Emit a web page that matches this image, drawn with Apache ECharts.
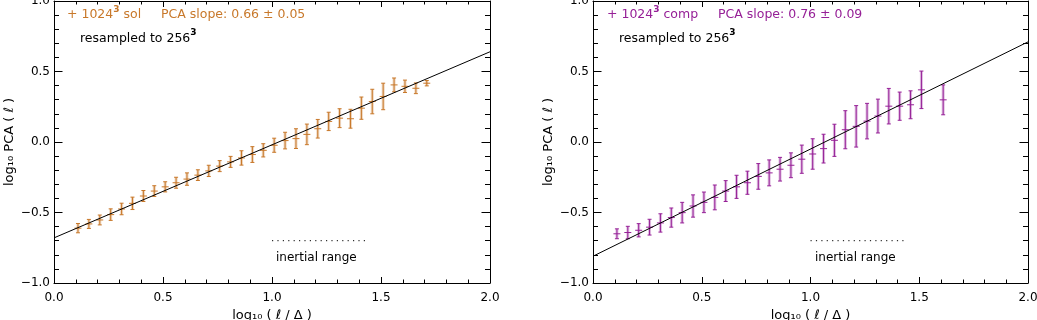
<!DOCTYPE html>
<html>
<head>
    <meta charset="utf-8" />
    <script src="https://cdn.jsdelivr.net/npm/echarts@6/dist/echarts.min.js"></script>
    <style>
        html, body { margin: 0; padding: 0; background: #fff; }
    </style>
</head>
<body>
    <div id="main" style="width:1037px;height:320px;"></div>
    <script>
        // log10(l/Delta) positions
        var xLeft = [0.11, 0.16, 0.21, 0.26, 0.31, 0.36, 0.41, 0.46, 0.51, 0.56, 0.61, 0.66, 0.71, 0.76, 0.81, 0.86,
            0.91, 0.96, 1.01, 1.06, 1.11, 1.16, 1.21, 1.26, 1.31, 1.36, 1.41, 1.46, 1.51, 1.56, 1.61, 1.66, 1.71];
        var yLeft = [-0.611, -0.581, -0.553, -0.515, -0.475, -0.435, -0.383, -0.348, -0.318, -0.289, -0.263, -0.235,
            -0.205, -0.171, -0.141, -0.113, -0.089, -0.059, -0.023, 0.010, 0.024, 0.054, 0.094, 0.146, 0.169, 0.165,
            0.240, 0.287, 0.323, 0.405, 0.395, 0.381, 0.417];
        var errLeft = [0.033, 0.032, 0.035, 0.041, 0.041, 0.044, 0.039, 0.038, 0.036, 0.039, 0.044, 0.038, 0.040,
            0.039, 0.039, 0.051, 0.056, 0.047, 0.050, 0.059, 0.070, 0.073, 0.066, 0.065, 0.067, 0.067, 0.079, 0.087,
            0.094, 0.049, 0.044, 0.038, 0.019];

        var xRight = [0.11, 0.16, 0.21, 0.26, 0.31, 0.36, 0.41, 0.46, 0.51, 0.56, 0.61, 0.66, 0.71, 0.76, 0.81, 0.86,
            0.91, 0.96, 1.01, 1.06, 1.11, 1.16, 1.21, 1.26, 1.31, 1.36, 1.41, 1.46, 1.51, 1.61];
        var yRight = [-0.651, -0.642, -0.626, -0.604, -0.574, -0.536, -0.501, -0.454, -0.428, -0.393, -0.348, -0.318,
            -0.289, -0.244, -0.219, -0.193, -0.165, -0.122, -0.085, -0.047, 0.012, 0.087, 0.111, 0.148, 0.184, 0.254,
            0.254, 0.264, 0.370, 0.299];
        var errRight = [0.035, 0.044, 0.047, 0.056, 0.065, 0.068, 0.073, 0.079, 0.073, 0.088, 0.074, 0.082, 0.082,
            0.091, 0.092, 0.084, 0.088, 0.100, 0.108, 0.102, 0.114, 0.135, 0.147, 0.126, 0.120, 0.126, 0.100, 0.099,
            0.133, 0.106];

        // PCA fits (end points) and inertial range marker
        var fitLeft = [[0, -0.68], [2, 0.64]];
        var fitRight = [[0, -0.81], [2, 0.71]];
        var inertial = [[1.0, -0.70], [1.44, -0.70]];

        var orange = '#c8782a';
        var purple = '#962097';
        var font = '"DejaVu Sans", sans-serif';

        var myChart = echarts.init(document.getElementById('main'));

        function tickFmt(v) {
            return v.toFixed(1).replace('-', '\u2212');
        }

        function errItem(color) {
            return function (params, api) {
                var x = api.value(0), y = api.value(1), e = api.value(2);
                var c = api.coord([x, y]);
                var lo = api.coord([x, y - e]);
                var hi = api.coord([x, y + e]);
                var halo = { stroke: color, lineWidth: 3, opacity: 0.3 };
                var st = { stroke: color, lineWidth: 1 };
                return {
                    type: 'group',
                    children: [
                        { type: 'line', shape: { x1: c[0], y1: lo[1], x2: c[0], y2: hi[1] }, style: halo },
                        { type: 'line', shape: { x1: c[0], y1: lo[1], x2: c[0], y2: hi[1] }, style: st },
                        { type: 'line', shape: { x1: c[0] - 2, y1: lo[1], x2: c[0] + 2, y2: lo[1] }, style: st },
                        { type: 'line', shape: { x1: c[0] - 2, y1: hi[1], x2: c[0] + 2, y2: hi[1] }, style: st },
                        { type: 'line', shape: { x1: c[0] - 3.5, y1: c[1], x2: c[0] + 3.5, y2: c[1] }, style: st }
                    ]
                };
            };
        }

        function xAxes(g) {
            return [
                {
                    gridIndex: g, type: 'value', min: 0, max: 2, interval: 0.5, position: 'bottom',
                    axisLine: { onZero: false, lineStyle: { color: '#000', width: 1 } },
                    axisTick: { inside: true, length: 6, lineStyle: { color: '#000' } },
                    minorTick: { show: true, splitNumber: 5, length: 3.5, lineStyle: { color: '#000' } },
                    splitLine: { show: false },
                    axisLabel: { formatter: tickFmt, color: '#000', fontSize: 12, fontFamily: font, margin: 9 },
                    name: 'log\u2081\u2080 ( \u2113 / \u0394 )', nameLocation: 'middle', nameGap: 24,
                    nameTextStyle: { color: '#000', fontSize: 13, fontFamily: font }
                },
                {
                    gridIndex: g, type: 'value', min: 0, max: 2, interval: 0.5, position: 'top',
                    axisLine: { onZero: false, lineStyle: { color: '#000', width: 1 } },
                    axisTick: { inside: true, length: 6, lineStyle: { color: '#000' } },
                    minorTick: { show: true, splitNumber: 5, length: 3.5, lineStyle: { color: '#000' } },
                    splitLine: { show: false },
                    axisLabel: { show: false }
                }
            ];
        }

        function yAxes(g) {
            return [
                {
                    gridIndex: g, type: 'value', min: -1, max: 1, interval: 0.5, position: 'left',
                    axisLine: { onZero: false, lineStyle: { color: '#000', width: 1 } },
                    axisTick: { inside: true, length: 8.5, lineStyle: { color: '#000' } },
                    minorTick: { show: true, splitNumber: 5, length: 5, lineStyle: { color: '#000' } },
                    splitLine: { show: false },
                    axisLabel: { formatter: tickFmt, color: '#000', fontSize: 12, fontFamily: font, margin: 4 },
                    name: 'log\u2081\u2080 PCA ( \u2113 )', nameLocation: 'middle', nameGap: 38, nameRotate: 90,
                    nameTextStyle: { color: '#000', fontSize: 13, fontFamily: font }
                },
                {
                    gridIndex: g, type: 'value', min: -1, max: 1, interval: 0.5, position: 'right',
                    axisLine: { onZero: false, lineStyle: { color: '#000', width: 1 } },
                    axisTick: { inside: true, length: 8.5, lineStyle: { color: '#000' } },
                    minorTick: { show: true, splitNumber: 5, length: 5, lineStyle: { color: '#000' } },
                    splitLine: { show: false },
                    axisLabel: { show: false }
                }
            ];
        }

        // text with optional superscript 3: pieces [main, sup, main]
        function txt(x, y, s, color, size) {
            return {
                type: 'text', x: x, y: y,
                style: {
                    text: s, fill: color, textVerticalAlign: 'middle',
                    rich: {
                        a: { fill: color, fontSize: size || 12.5, fontFamily: font, lineHeight: 20 },
                        b: { fill: color, fontSize: 9, fontWeight: 'bold', fontFamily: font, lineHeight: 10, verticalAlign: 'top' }
                    }
                }
            };
        }

        var option = {
            animation: false,
            backgroundColor: '#fff',
            grid: [
                { left: 54, right: 547, top: 1, bottom: 37, containLabel: false, outerBoundsMode: 'none' },
                { left: 593, right: 9, top: 1, bottom: 37, containLabel: false, outerBoundsMode: 'none' }
            ],
            xAxis: xAxes(0).concat(xAxes(1)),
            yAxis: yAxes(0).concat(yAxes(1)),
            graphic: [
                txt(67, 15, '{a|+ 1024}{b|3}{a| sol}', orange),
                txt(161, 15, '{a|PCA slope: 0.66 \u00b1 0.05}', orange),
                txt(80, 38.5, '{a|resampled to 256}{b|3}', '#000'),
                txt(276, 258, '{a|inertial range}', '#000', 12),
                txt(607, 15, '{a|+ 1024}{b|3}{a| comp}', purple),
                txt(718, 15, '{a|PCA slope: 0.76 \u00b1 0.09}', purple),
                txt(619, 38.5, '{a|resampled to 256}{b|3}', '#000'),
                txt(815, 258, '{a|inertial range}', '#000', 12)
            ],
            series: [
                {
                    name: 'sol', type: 'custom', xAxisIndex: 0, yAxisIndex: 0,
                    renderItem: errItem(orange),
                    data: xLeft.map(function (x, i) { return [x, yLeft[i], errLeft[i]]; })
                },
                {
                    name: 'fit sol', type: 'line', xAxisIndex: 0, yAxisIndex: 0, symbol: 'none',
                    lineStyle: { color: '#000', width: 1 }, data: fitLeft
                },
                {
                    name: 'range sol', type: 'line', xAxisIndex: 0, yAxisIndex: 0, symbol: 'none',
                    lineStyle: { color: '#000', width: 1, type: [1.2, 4.2] }, data: inertial
                },
                {
                    name: 'comp', type: 'custom', xAxisIndex: 2, yAxisIndex: 2,
                    renderItem: errItem(purple),
                    data: xRight.map(function (x, i) { return [x, yRight[i], errRight[i]]; })
                },
                {
                    name: 'fit comp', type: 'line', xAxisIndex: 2, yAxisIndex: 2, symbol: 'none',
                    lineStyle: { color: '#000', width: 1 }, data: fitRight
                },
                {
                    name: 'range comp', type: 'line', xAxisIndex: 2, yAxisIndex: 2, symbol: 'none',
                    lineStyle: { color: '#000', width: 1, type: [1.2, 4.2] }, data: inertial
                }
            ]
        };

        myChart.setOption(option);
    </script>
</body>
</html>
